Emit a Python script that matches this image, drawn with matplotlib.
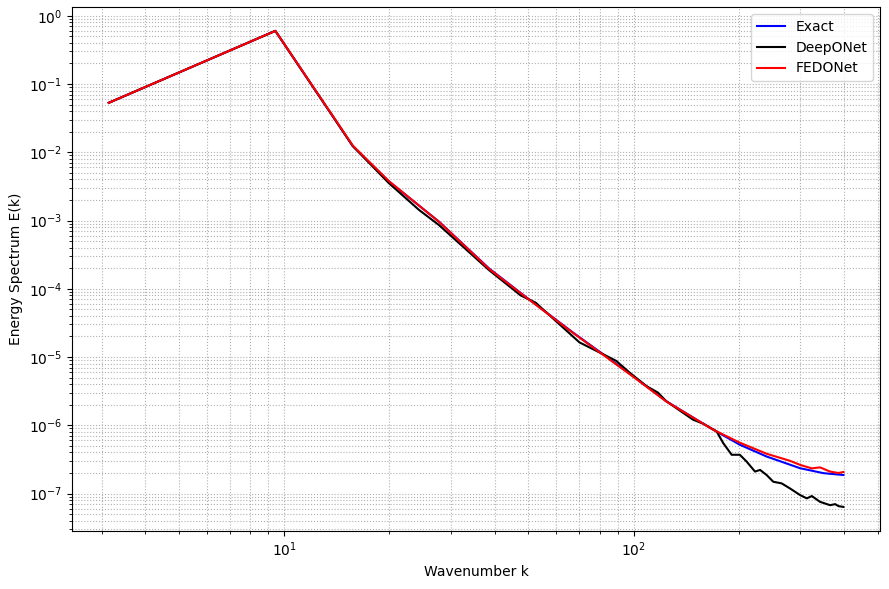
import numpy as np
import matplotlib
matplotlib.use("Agg")
import matplotlib.pyplot as plt

PI = np.pi

# Exact spectrum
k_exact = [PI, 3 * PI, 5 * PI, 19.9, 27.7, 38.6, 49.2, 66.9, 79.9, 99.5, 124.0,
           169.0, 201.6, 240.5, 300.0, 350.0, 399.0]
E_exact = [0.053, 0.6, 0.0123, 3.76e-3, 9.67e-4, 1.98e-4, 7.57e-5, 2.31e-5, 1.20e-5,
           5.28e-6, 2.26e-6, 8.64e-7, 5.19e-7, 3.49e-7, 2.35e-7, 1.99e-7, 1.87e-7]

# DeepONet prediction
k_deep = [PI, 3 * PI, 5 * PI, 19.9, 24.3, 27.7, 38.6, 45.0, 47.5, 52.5, 54.8, 70.0,
          76.4, 89.2, 97.4, 108.8, 117.5, 124.0, 148.0, 158.0, 172.9, 180.6, 191.0,
          201.6, 210.8, 222.8, 230.4, 240.5, 251.3, 265.6, 280.5, 300.0, 313.5, 324.0,
          342.0, 365.5, 378.0, 386.5, 399.0]
E_deep = [0.053, 0.6, 0.0123, 3.55e-3, 1.43e-3, 8.61e-4, 1.87e-4, 1.00e-4, 8.0e-5,
          6.24e-5, 5.09e-5, 1.64e-5, 1.31e-5, 8.79e-6, 5.93e-6, 3.76e-6, 3.01e-6,
          2.26e-6, 1.21e-6, 1.06e-6, 8.17e-7, 5.50e-7, 3.70e-7, 3.70e-7, 2.94e-7,
          2.10e-7, 2.22e-7, 1.87e-7, 1.49e-7, 1.41e-7, 1.19e-7, 9.5e-8, 8.5e-8, 9.2e-8,
          7.57e-8, 6.76e-8, 7.0e-8, 6.54e-8, 6.38e-8]

# FEDONet prediction
k_fedo = [PI, 3 * PI, 5 * PI, 19.9, 27.7, 38.6, 49.2, 66.9, 79.9, 99.5, 124.0,
          169.0, 201.6, 240.5, 280.5, 300.0, 324.0, 342.0, 365.5, 386.5, 399.0]
E_fedo = [0.053, 0.6, 0.0125, 3.8e-3, 9.6e-4, 1.95e-4, 7.5e-5, 2.28e-5, 1.18e-5,
          5.2e-6, 2.24e-6, 8.64e-7, 5.56e-7, 3.83e-7, 3.02e-7, 2.63e-7, 2.34e-7,
          2.42e-7, 2.1e-7, 2.0e-7, 2.07e-7]

fig = plt.figure(figsize=(8.89, 5.89), dpi=100)
plt.subplots_adjust(left=0.081, right=0.99, top=0.988, bottom=0.099)

plt.loglog(k_exact, E_exact, color="b", label="Exact")
plt.loglog(k_deep, E_deep, color="k", label="DeepONet")
plt.loglog(k_fedo, E_fedo, color="r", label="FEDONet")

plt.xlabel("Wavenumber k")
plt.ylabel("Energy Spectrum E(k)")
plt.legend(loc="upper right")
plt.grid(True, which="both", ls=":")

plt.savefig("out.png", dpi=100)
